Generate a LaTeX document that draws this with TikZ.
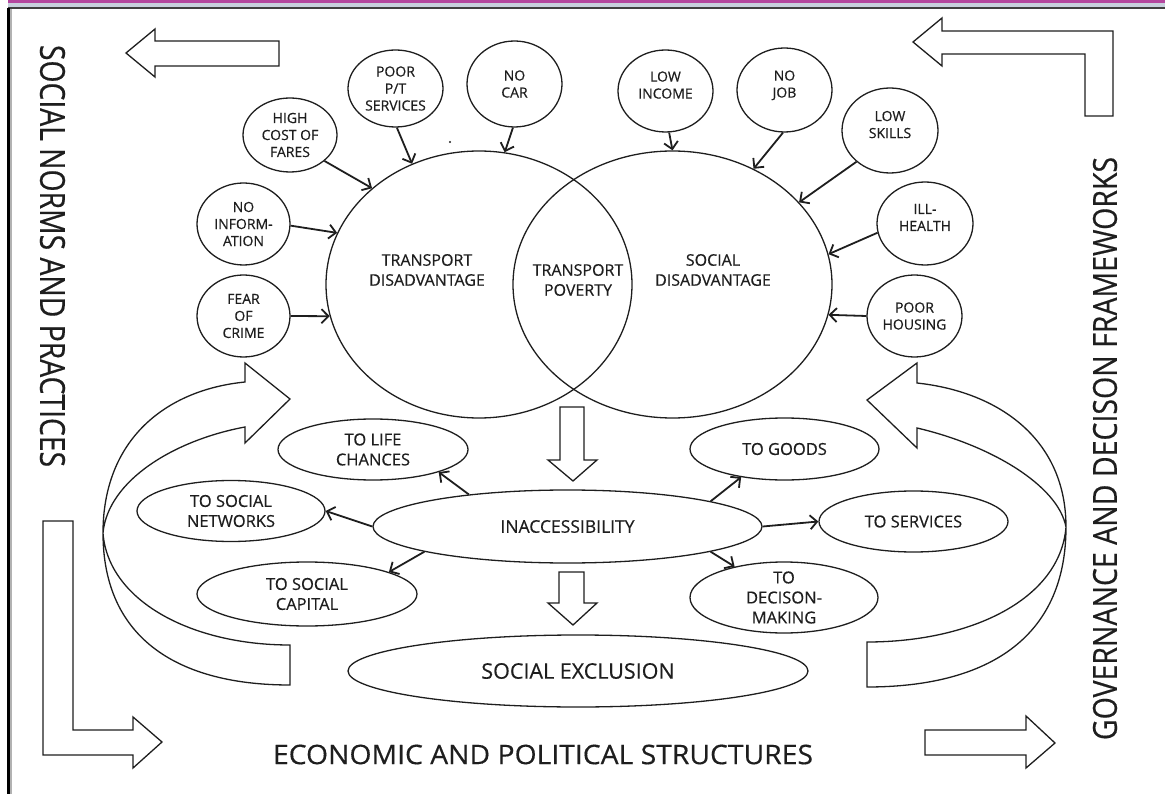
\documentclass[tikz,border=0pt]{standalone}
\usepackage{graphicx}
\usepackage{fontspec}
\setmainfont{Open Sans}[FakeBold=0.4]
\usetikzlibrary{shapes.geometric,arrows.meta}
\definecolor{bandpurple}{HTML}{B4479F}
\definecolor{bandgrey}{HTML}{C8D1DE}
\definecolor{ink}{HTML}{1E1E1E}
\begin{document}
\begin{tikzpicture}[x=1pt,y=-1pt,
  oval/.style={ellipse, draw=ink, line width=1.3pt, fill=white, inner sep=-3pt, align=center, text=ink},
  small/.style={oval, font=\fontsize{14}{17}\selectfont},
  raised/.style={text depth=12pt},
  mid/.style={oval, font=\fontsize{16.5}{20}\selectfont},
  big/.style={ellipse, draw=ink, line width=1.3pt, inner sep=0pt},
  bigtext/.style={align=center, text=ink, font=\fontsize{16}{20}\selectfont, inner sep=0pt},
  link/.style={draw=ink, line width=1.8pt, -{Straight Barb[length=7pt,width=14pt]}},
  block/.style={draw=ink, line width=1.3pt, line join=miter, fill=white},
  heading/.style={inner sep=0pt, text=ink}
]
\useasboundingbox (0,0) rectangle (1165,794);
% frame
\fill[bandpurple] (8,0) rectangle (1165,3.2);
\fill[bandgrey] (8,3.2) rectangle (1165,7.2);
\fill[black!75] (8,7.5) rectangle (1165,9);
\fill[black] (7,8) rectangle (10,794);
\fill[black!30] (10,9) rectangle (11.5,794);

% side headings
\node[heading, rotate=-90] (snp) at (52.5,256) {\resizebox{422pt}{25pt}{SOCIAL NORMS AND PRACTICES}};
\node[heading, rotate=90] (gdf) at (1105,448.5) {\resizebox{583pt}{24pt}{GOVERNANCE AND DECISON FRAMEWORKS}};
\node[heading] (eps) at (543,754.5) {\resizebox{540pt}{19.5pt}{ECONOMIC AND POLITICAL STRUCTURES}};

% straight block arrows
\draw[block] (279,41) -- (155,41) -- (155,29) -- (126,53) -- (155,77) -- (155,66) -- (279,66) -- cycle;
\draw[block] (942,31) -- (1113,31) -- (1113,116) -- (1085,116) -- (1085,54) -- (942,54) -- (942,66) -- (913,42) -- (942,18) -- cycle;
\draw[block] (43,521) -- (73,521) -- (73,730) -- (133,730) -- (133,717) -- (162,742) -- (133,768) -- (133,755) -- (43,755) -- cycle;
\draw[block] (925,730) -- (1026,730) -- (1026,716) -- (1055,743) -- (1026,768) -- (1026,755) -- (925,755) -- cycle;
\draw[block] (560,407) -- (584,407) -- (584,460) -- (597,460) -- (573,481) -- (548,460) -- (560,460) -- cycle;
\draw[block] (559,572) -- (584,572) -- (584,603) -- (597,603) -- (573,625) -- (548,603) -- (559,603) -- cycle;

% curved arrows
\draw[block] (245,382) -- (245,363) -- (290,399) -- (245,443) -- (245,427)
  .. controls (175,440) and (108,480) .. (103,533)
  .. controls (108,600) and (190,645) .. (290,645)
  -- (290,685)
  .. controls (180,685) and (103,640) .. (103,533)
  .. controls (103,440) and (165,390) .. (245,382) -- cycle;
\draw[block] (917,383) -- (917,363) -- (867,400) -- (917,448) -- (917,428)
  .. controls (990,445) and (1058,485) .. (1066,527)
  .. controls (1060,600) and (970,642) .. (867,642)
  -- (867,687)
  .. controls (985,687) and (1066,640) .. (1066,527)
  .. controls (1066,440) and (1000,392) .. (917,383) -- cycle;

% main circles
\node[big, minimum width=306pt, minimum height=267pt] (td) at (479,284.5) {};
\node[big, minimum width=319pt, minimum height=267pt] (sd) at (672.5,284.5) {};
\node[bigtext] (tdt) at (427,270) {TRANSPORT\\DISADVANTAGE};
\node[bigtext] (tpt) at (578,280) {TRANSPORT\\POVERTY};
\node[bigtext] (sdt) at (713,270) {SOCIAL\\DISADVANTAGE};
\fill[ink] (450,142) circle (1.2);

% causes
\node[small, minimum width=94pt, minimum height=74pt] (hc) at (290,135) {HIGH\\COST OF\\FARES};
\node[small, minimum width=95pt, minimum height=77pt] (pt) at (395.5,88.5) {POOR\\P/T\\SERVICES};
\node[small, minimum width=95pt, minimum height=86pt] (nc) at (514.5,84) {NO\\CAR};
\node[small, minimum width=93pt, minimum height=82pt] (ni) at (243.5,224) {NO\\INFORM-\\ATION};
\node[small, minimum width=93pt, minimum height=82pt] (fc) at (243.5,316) {FEAR\\OF\\CRIME};
\node[small, raised, minimum width=95pt, minimum height=82pt] (li) at (665.5,91) {LOW\\INCOME};
\node[small, raised, minimum width=95pt, minimum height=84pt] (nj) at (784.5,90) {NO\\JOB};
\node[small, raised, minimum width=96pt, minimum height=85pt] (ls) at (890,130.5) {LOW\\SKILLS};
\node[small, raised, minimum width=96pt, minimum height=83pt] (ih) at (925,223.5) {ILL-\\HEALTH};
\node[small, minimum width=95pt, minimum height=82pt] (ph) at (914.5,316) {POOR\\HOUSING};

\draw[link] (hc.-37.6) -- (td.138.5);
\draw[link] (pt.-88) -- (td.119.6);
\draw[link] (nc.-92) -- (td.79.9);
\draw[link] (ni.-2) -- (td.160);
\draw[link] (fc.east) -- (td.192);
\draw[link] (li.-85) -- (sd.90);
\draw[link] (nj.-92) -- (sd.55.9);
\draw[link] (ls.223.7) -- (sd.33.5);
\draw[link] (ih.191.4) -- (sd.11.1);
\draw[link] (ph.west) -- (sd.-11.4);

% accessibility
\node[oval, font=\fontsize{17.5}{20}\selectfont, minimum width=389pt, minimum height=73pt] (ina) at (567.5,526.5) {INACCESSIBILITY};
\node[mid, minimum width=190pt, minimum height=61pt] (tlc) at (373,449.5) {TO LIFE\\CHANCES};
\node[mid, minimum width=188pt, minimum height=61pt] (tsn) at (231,511) {TO SOCIAL\\NETWORKS};
\node[mid, minimum width=220pt, minimum height=64pt] (tsc) at (307,594) {TO SOCIAL\\CAPITAL};
\node[mid, minimum width=189pt, minimum height=62pt] (tg) at (784.5,449) {TO GOODS};
\node[mid, minimum width=189pt, minimum height=61pt] (ts) at (913.5,521.5) {TO SERVICES};
\node[mid, minimum width=188pt, minimum height=71pt] (tdm) at (784,597.5) {TO\\DECISON-\\MAKING};
\node[oval, font=\fontsize{21.5}{24}\selectfont, minimum width=460pt, minimum height=72pt] (se) at (578,671) {SOCIAL EXCLUSION};

\draw[link] (ina.162.6) -- (tlc.-19.3);
\draw[link] (ina.west) -- (tsn.east);
\draw[link] (ina.190.8) -- (tsc.15.4);
\draw[link] (ina.10.9) -- (tg.213.7);
\draw[link] (ina.east) -- (ts.west);
\draw[link] (ina.-10.9) -- (tdm.148);
\end{tikzpicture}
\end{document}
